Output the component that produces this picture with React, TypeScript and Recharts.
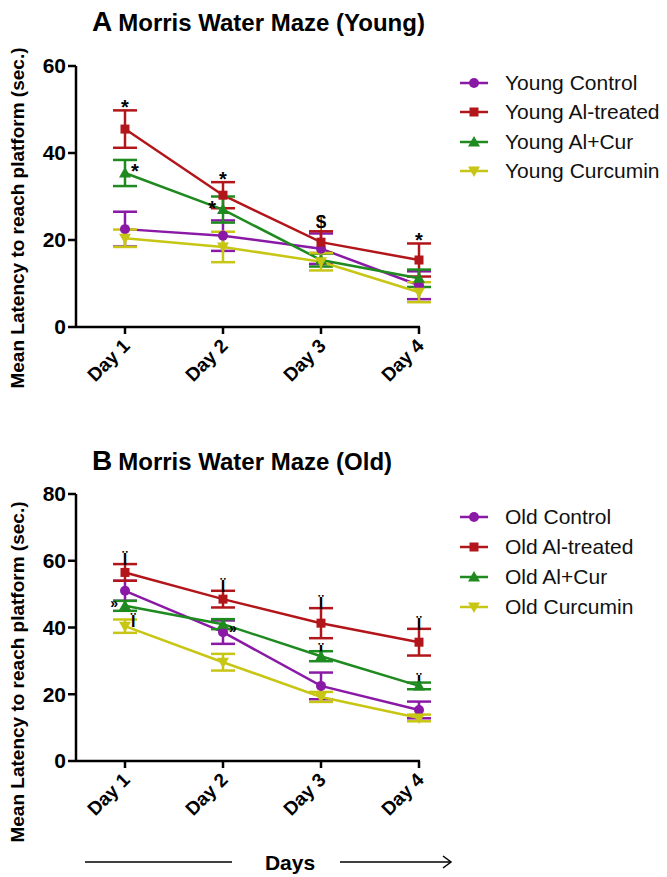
import React from "react";
import { LineChart, Line, XAxis, YAxis, ErrorBar, ReferenceDot } from "recharts";

const days = ["Day 1", "Day 2", "Day 3", "Day 4"];

// Panel A - young rats
const youngControl = [22.5, 21, 18, 9.6];
const youngControlErr = [4, 3.5, 3.5, 3.2];
const youngAl = [45.5, 30.3, 19.5, 15.4];
const youngAlErr = [4.3, 3, 2.5, 3.8];
const youngAlCur = [35.4, 27, 15.4, 11.2];
const youngAlCurErr = [3, 3, 1.5, 2];
const youngCur = [20.4, 18.4, 15, 8];
const youngCurErr = [2, 3.5, 2, 2.3];

// Panel B - old rats
const oldControl = [51, 38.6, 22.5, 15.3];
const oldControlErr = [3, 3.5, 4, 2.5];
const oldAl = [56.5, 48.5, 41.3, 35.6];
const oldAlErr = [2.5, 2.5, 4.5, 4];
const oldAlCur = [46.5, 41, 31.4, 22.5];
const oldAlCurErr = [1.5, 1.5, 1.5, 1];
const oldCur = [40.4, 29.6, 19.2, 12.9];
const oldCurErr = [2, 2.5, 1.5, 1];

const yTicksA = [0, 20, 40, 60];
const yTicksB = [0, 20, 40, 60, 80];

const PURPLE = "#8A1AA6";
const RED = "#B2161A";
const GREEN = "#1F8A1F";
const YELLOW = "#C8C614";
const FONT = '"Liberation Sans", Arial, Helvetica, sans-serif';

type Shape = "circle" | "square" | "up" | "down";
type SeriesDef = { key: string; name: string; color: string; shape: Shape; values: number[]; errors: number[] };
type SigMark = { day: string; key: string; symbol: string; at: "top" | "mean"; side: "above" | "left" | "right" };

const youngSeries: SeriesDef[] = [
  { key: "control", name: "Young Control", color: PURPLE, shape: "circle", values: youngControl, errors: youngControlErr },
  { key: "al", name: "Young Al-treated", color: RED, shape: "square", values: youngAl, errors: youngAlErr },
  { key: "alcur", name: "Young Al+Cur", color: GREEN, shape: "up", values: youngAlCur, errors: youngAlCurErr },
  { key: "cur", name: "Young Curcumin", color: YELLOW, shape: "down", values: youngCur, errors: youngCurErr },
];

const oldSeries: SeriesDef[] = [
  { key: "control", name: "Old Control", color: PURPLE, shape: "circle", values: oldControl, errors: oldControlErr },
  { key: "al", name: "Old Al-treated", color: RED, shape: "square", values: oldAl, errors: oldAlErr },
  { key: "alcur", name: "Old Al+Cur", color: GREEN, shape: "up", values: oldAlCur, errors: oldAlCurErr },
  { key: "cur", name: "Old Curcumin", color: YELLOW, shape: "down", values: oldCur, errors: oldCurErr },
];

const youngMarks: SigMark[] = [
  { day: "Day 1", key: "al", symbol: "*", at: "top", side: "above" },
  { day: "Day 1", key: "alcur", symbol: "*", at: "mean", side: "right" },
  { day: "Day 2", key: "al", symbol: "*", at: "top", side: "above" },
  { day: "Day 2", key: "alcur", symbol: "*", at: "mean", side: "left" },
  { day: "Day 3", key: "al", symbol: "$", at: "top", side: "above" },
  { day: "Day 4", key: "al", symbol: "*", at: "top", side: "above" },
];

const oldMarks: SigMark[] = [
  { day: "Day 1", key: "al", symbol: "Ï", at: "top", side: "above" },
  { day: "Day 1", key: "alcur", symbol: "»", at: "mean", side: "left" },
  { day: "Day 1", key: "cur", symbol: "Ï", at: "mean", side: "right" },
  { day: "Day 2", key: "al", symbol: "Ï", at: "top", side: "above" },
  { day: "Day 2", key: "control", symbol: "»", at: "mean", side: "right" },
  { day: "Day 3", key: "al", symbol: "Ï", at: "top", side: "above" },
  { day: "Day 3", key: "alcur", symbol: "Ï", at: "mean", side: "above" },
  { day: "Day 4", key: "al", symbol: "Ï", at: "top", side: "above" },
  { day: "Day 4", key: "alcur", symbol: "Ï", at: "mean", side: "above" },
];

function buildRows(series: SeriesDef[]) {
  return days.map((day, i) => {
    const row: Record<string, string | number> = { day };
    series.forEach((s) => {
      row[s.key] = s.values[i];
      row[s.key + "Err"] = s.errors[i];
    });
    return row;
  });
}

function Marker({ shape, cx, cy, color }: { shape: Shape; cx: number; cy: number; color: string }) {
  if (shape === "circle") return <circle cx={cx} cy={cy} r={5} fill={color} />;
  if (shape === "square") return <rect x={cx - 4.5} y={cy - 4.5} width={9} height={9} fill={color} />;
  if (shape === "up")
    return <polygon points={`${cx},${cy - 6} ${cx + 6},${cy + 4.5} ${cx - 6},${cy + 4.5}`} fill={color} />;
  return <polygon points={`${cx},${cy + 6} ${cx + 6},${cy - 4.5} ${cx - 6},${cy - 4.5}`} fill={color} />;
}

const DayTick = (props: any) => {
  const { x, y, payload } = props;
  const tx = x + 6;
  const ty = y + 11;
  return (
    <text
      x={tx}
      y={ty}
      textAnchor="end"
      transform={`rotate(-45, ${tx}, ${ty})`}
      fontSize={19}
      fontWeight={700}
      fill="#000"
    >
      {payload.value}
    </text>
  );
};

function SigText({ cx, cy, mark }: { cx: number; cy: number; mark: SigMark }) {
  const isStar = mark.symbol === "*" || mark.symbol === "$";
  const size = mark.symbol === "*" ? 20 : mark.symbol === "$" ? 19 : mark.symbol === "»" ? 14 : 16;
  let x = cx;
  let y = cy;
  let anchor: "middle" | "start" | "end" = "middle";
  if (mark.side === "above") {
    y = mark.symbol === "*" ? cy + 4 : cy - 3;
    if (mark.symbol === "Ï") y = cy + 1;
  } else if (mark.side === "right") {
    anchor = "start";
    x = cx + 6;
    y = isStar ? cy + 5 : cy + 1;
  } else {
    anchor = "end";
    x = cx - 7;
    y = isStar ? cy + 5 : cy + 2;
  }
  return (
    <text x={x} y={y} textAnchor={anchor} fontSize={size} fontWeight={700} fill="#000">
      {mark.symbol}
    </text>
  );
}

function Panel({
  series,
  marks,
  yMax,
  yTicks,
  height,
  bottom,
}: {
  series: SeriesDef[];
  marks: SigMark[];
  yMax: number;
  yTicks: number[];
  height: number;
  bottom: number;
}) {
  const rows = buildRows(series);
  return (
    <LineChart width={667} height={height} data={rows} margin={{ top: 66, right: 247, bottom, left: 36 }}>
      <XAxis
        dataKey="day"
        padding={{ left: 49, right: 1 }}
        height={80}
        tickSize={7}
        interval={0}
        axisLine={{ stroke: "#000", strokeWidth: 2.5 }}
        tickLine={{ stroke: "#000", strokeWidth: 2.5 }}
        tick={DayTick}
      />
      <YAxis
        width={40}
        domain={[0, yMax]}
        ticks={yTicks}
        interval={0}
        tickSize={8}
        tickMargin={2}
        axisLine={{ stroke: "#000", strokeWidth: 2.5 }}
        tickLine={{ stroke: "#000", strokeWidth: 2.5 }}
        tick={{ fontSize: 21, fontWeight: 700, fill: "#000" }}
      />
      {series.map((s) => (
        <Line
          key={s.key}
          type="linear"
          dataKey={s.key}
          name={s.name}
          stroke={s.color}
          strokeWidth={2.5}
          isAnimationActive={false}
          dot={(p: any) => <Marker key={`${s.key}-${p.index}`} shape={s.shape} cx={p.cx} cy={p.cy} color={s.color} />}
          activeDot={false}
        >
          <ErrorBar dataKey={s.key + "Err"} width={12} strokeWidth={2.5} stroke={s.color} direction="y" />
        </Line>
      ))}
      {marks.map((m, i) => {
        const s = series.find((d) => d.key === m.key)!;
        const idx = days.indexOf(m.day);
        const y = m.at === "top" ? s.values[idx] + s.errors[idx] : s.values[idx];
        return (
          <ReferenceDot
            key={i}
            x={m.day}
            y={y}
            r={0}
            ifOverflow="visible"
            shape={(p: any) => <SigText cx={p.cx} cy={p.cy} mark={m} />}
          />
        );
      })}
    </LineChart>
  );
}

function PanelLegend({ series, top, rowH }: { series: SeriesDef[]; top: number; rowH: number }) {
  return (
    <div style={{ position: "absolute", left: 458, top }}>
      {series.map((s) => (
        <div key={s.key} style={{ display: "flex", alignItems: "center", height: rowH }}>
          <svg width={32} height={16}>
            <line x1={2} x2={30} y1={8} y2={8} stroke={s.color} strokeWidth={2.5} />
            <Marker shape={s.shape} cx={16} cy={8} color={s.color} />
          </svg>
          <span style={{ marginLeft: 15, fontSize: 21, color: "#111" }}>{s.name}</span>
        </div>
      ))}
    </div>
  );
}

function Title({ letter, text, top }: { letter: string; text: string; top: number }) {
  return (
    <div style={{ position: "absolute", left: 92, top, fontWeight: 700, whiteSpace: "nowrap", lineHeight: 1 }}>
      <span style={{ fontSize: 28 }}>{letter}</span>
      <span style={{ fontSize: 24, marginLeft: 6 }}>{text}</span>
    </div>
  );
}

function YLabel({ cy }: { cy: number }) {
  return (
    <div
      style={{
        position: "absolute",
        left: 18 - 250,
        top: cy - 12,
        width: 500,
        height: 24,
        lineHeight: "24px",
        textAlign: "center",
        fontSize: 19,
        fontWeight: 700,
        transform: "rotate(-90deg)",
        whiteSpace: "nowrap",
      }}
    >
      Mean Latency to reach platform (sec.)
    </div>
  );
}

export default function App() {
  return (
    <div
      style={{
        position: "absolute",
        left: 0,
        top: 0,
        width: 667,
        height: 877,
        background: "#fff",
        fontFamily: FONT,
        color: "#000",
        overflow: "hidden",
      }}
    >
      <Title letter="A" text="Morris Water Maze (Young)" top={8} />
      <div style={{ position: "absolute", left: 0, top: 0 }}>
        <Panel series={youngSeries} marks={youngMarks} yMax={60} yTicks={yTicksA} height={440} bottom={33} />
      </div>
      <PanelLegend series={youngSeries} top={68} rowH={29.5} />
      <YLabel cy={218} />

      <Title letter="B" text="Morris Water Maze (Old)" top={447} />
      <div style={{ position: "absolute", left: 0, top: 428 }}>
        <Panel series={oldSeries} marks={oldMarks} yMax={80} yTicks={yTicksB} height={430} bottom={17} />
      </div>
      <PanelLegend series={oldSeries} top={502} rowH={30} />
      <YLabel cy={672} />

      <svg style={{ position: "absolute", left: 0, top: 845 }} width={667} height={32}>
        <line x1={85} x2={232} y1={17} y2={17} stroke="#000" strokeWidth={1.5} />
        <text x={290} y={25} textAnchor="middle" fontSize={21} fontWeight={700} fill="#000">
          Days
        </text>
        <line x1={340} x2={451} y1={17} y2={17} stroke="#000" strokeWidth={1.5} />
        <polyline points="443,11 451,17 443,23" fill="none" stroke="#000" strokeWidth={1.5} />
      </svg>
    </div>
  );
}
